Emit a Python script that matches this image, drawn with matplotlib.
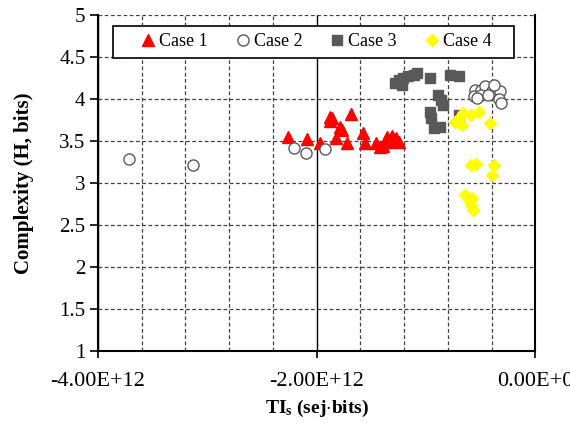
import matplotlib
matplotlib.use("Agg")
import matplotlib.pyplot as plt
import numpy as np
from matplotlib.ticker import FixedLocator, FuncFormatter
from matplotlib.patches import Rectangle

plt.rcParams['font.family'] = ['Liberation Serif', 'DejaVu Serif']
plt.rcParams['mathtext.fontset'] = 'custom'
plt.rcParams['mathtext.rm'] = 'Liberation Serif'
plt.rcParams['mathtext.bf'] = 'Liberation Serif:bold'

# TI_s values in units of 1E12 sej*bits, complexity H in bits
case1_x = [-2.26, -2.09, -1.97, -1.88, -1.88, -1.86, -1.69, -1.79, -1.77, -1.82, -1.72,
           -1.58, -1.56, -1.46, -1.42, -1.39, -1.36, -1.31, -1.29, -1.25, -1.33, -1.27]
case1_y = [3.55, 3.52, 3.48, 3.79, 3.74, 3.77, 3.82, 3.67, 3.63, 3.53, 3.47,
           3.59, 3.47, 3.48, 3.43, 3.44, 3.55, 3.56, 3.51, 3.49, 3.49, 3.54]

case2_x = [-3.72, -3.13, -2.21, -2.10, -1.92, -0.55, -0.56, -0.50, -0.46, -0.50,
           -0.40, -0.32, -0.33, -0.31, -0.38, -0.53, -0.43]
case2_y = [3.29, 3.21, 3.42, 3.36, 3.40, 4.11, 4.03, 4.11, 4.15, 4.05,
           4.09, 4.09, 4.00, 3.95, 4.17, 4.01, 4.05]

case3_x = [-1.28, -1.25, -1.21, -1.16, -1.11, -1.08, -1.22, -0.96, -0.78, -0.70,
           -0.89, -0.86, -0.84, -0.96, -0.95, -0.93, -0.87, -0.70]
case3_y = [4.19, 4.23, 4.25, 4.27, 4.29, 4.31, 4.17, 4.25, 4.29, 4.27,
           4.05, 3.99, 3.93, 3.85, 3.77, 3.65, 3.67, 3.81]

case4_x = [-0.70, -0.66, -0.67, -0.59, -0.51, -0.41, -0.59, -0.54, -0.38, -0.40,
           -0.64, -0.61, -0.58, -0.59, -0.57, -0.73]
case4_y = [3.77, 3.83, 3.69, 3.81, 3.84, 3.71, 3.21, 3.23, 3.21, 3.10,
           2.86, 2.80, 2.82, 2.74, 2.68, 3.73]

x_major = [-4e12, -2e12, 0]
x_minor = [-3.6e12, -3.2e12, -2.8e12, -2.4e12, -1.6e12, -1.2e12, -0.8e12, -0.4e12]
y_ticks = [1, 1.5, 2, 2.5, 3, 3.5, 4, 4.5, 5]

fig = plt.figure(figsize=(5.7, 4.26), dpi=100)
ax = fig.add_axes([0.172, 0.176, 0.767, 0.789])

e = 1e12
ax.plot(np.array(case3_x) * e, case3_y, 's', ms=6.5, color='#595959', mec='#595959',
        ls='none', label='Case 3', zorder=3)
ax.plot(np.array(case1_x) * e, case1_y, '^', ms=8.5, color='#ff0000', mec='#ff0000',
        ls='none', label='Case 1', zorder=4)
ax.plot(np.array(case2_x) * e, case2_y, 'o', ms=8, mfc='white', mec='#595959', mew=1.0,
        ls='none', label='Case 2', zorder=4)
ax.plot(np.array(case4_x) * e, case4_y, 'D', ms=6.5, color='#ffff00', mec='#ffff00',
        ls='none', label='Case 4', zorder=5)

ax.set_xlim(-4e12, 0)
ax.set_ylim(1, 5)
ax.xaxis.set_major_locator(FixedLocator(x_major))
ax.xaxis.set_minor_locator(FixedLocator(x_minor))
ax.yaxis.set_major_locator(FixedLocator(y_ticks))


def fmt_x(v, pos):
    if v == 0:
        return '0.00E+0'
    return '%.2fE+12' % (v / e)


ax.xaxis.set_major_formatter(FuncFormatter(fmt_x))
ax.yaxis.set_major_formatter(FuncFormatter(lambda v, p: '%g' % v))

ax.grid(True, which='major', axis='x', color='black', lw=1.0, ls='-')
ax.grid(True, which='minor', axis='x', color='#404040', lw=0.9, ls=(0, (3, 2)))
ax.grid(True, which='major', axis='y', color='#404040', lw=0.9, ls=(0, (3, 2)))
ax.set_axisbelow(True)

ax.tick_params(axis='x', which='major', direction='out', length=5, width=1.2,
               labelsize=16, pad=10)
ax.tick_params(axis='y', which='major', direction='out', length=6, width=1.2,
               labelsize=15, pad=3)
ax.tick_params(axis='x', which='minor', length=0)
ax.spines['top'].set_visible(False)
for s in ['left', 'bottom', 'right']:
    ax.spines[s].set_linewidth(1.5)

ax.set_xlabel(r'$\mathbf{TI_s}$ (sej$\cdot$bits)', fontsize=14, fontweight='bold', labelpad=5)
ax.set_ylabel('Complexity (H, bits)', fontsize=15, fontweight='bold', labelpad=18)

# legend box drawn separately (wide padding like the original)
ax.add_patch(Rectangle((0.0343, 0.872), 0.918, 0.095, transform=ax.transAxes,
                       facecolor='white', edgecolor='black', lw=1.2, zorder=6))

h, l = ax.get_legend_handles_labels()
order = [l.index('Case 1'), l.index('Case 2'), l.index('Case 3'), l.index('Case 4')]
leg = ax.legend([h[i] for i in order], [l[i] for i in order], loc='center',
                bbox_to_anchor=(0.499, 0.92), ncol=4, fontsize=13, frameon=False,
                handlelength=0.8, handletextpad=0.2, columnspacing=1.55, borderpad=0.2)
leg.set_zorder(7)

fig.savefig('out.png', dpi=100)
